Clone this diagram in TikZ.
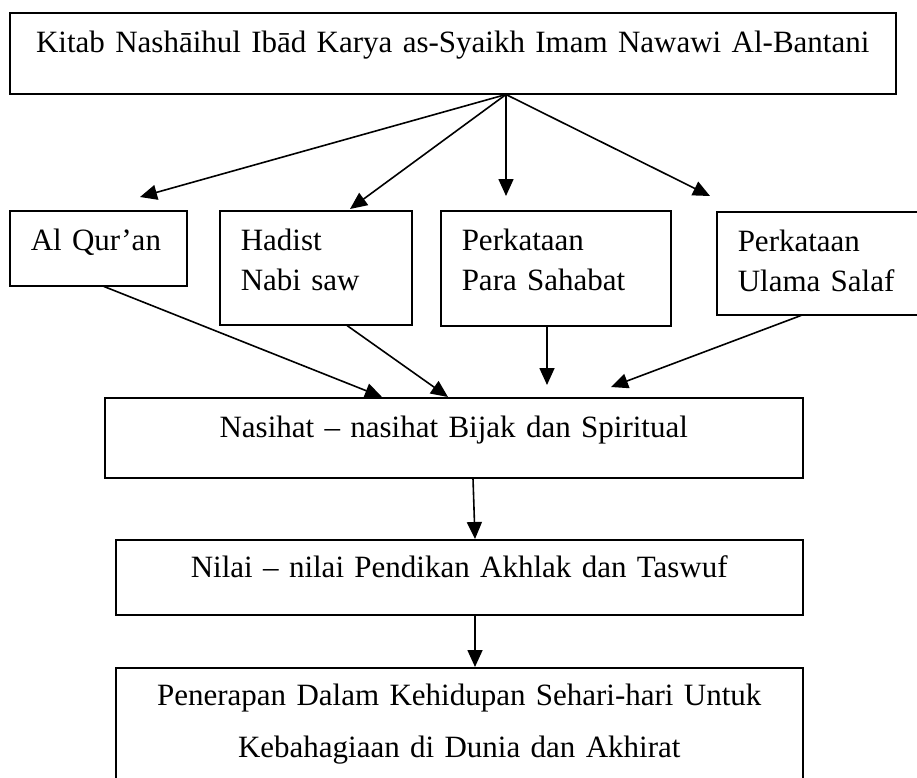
\documentclass[tikz,border=0pt]{standalone}
\usepackage{fontspec}
\setmainfont{Liberation Serif}
\usepackage{tikz}
\usetikzlibrary{arrows.meta,positioning,calc}
\tikzset{
  box/.style={draw,line width=1.5pt,anchor=north west,inner ysep=0pt,
    font=\fontsize{31}{40}\selectfont},
  cbox/.style={box,align=center,inner xsep=0pt},
  lbox/.style={box,align=left,inner xsep=21pt},
  arr/.style={line width=1.6pt,-{Triangle[length=17pt,width=15pt]}}
}

\begin{document}
\begin{tikzpicture}[x=1pt,y=-1pt]
    \useasboundingbox (0,0) rectangle (917,777);
    \clip (0,0) rectangle (917,777);
    % source
    \node[cbox,text width=886pt,text height=40pt,text depth=41pt] (kitab) at (9,12)
      {Kitab Nashāihul Ibād Karya as-Syaikh Imam Nawawi Al-Bantani};
    % four sources
    \node[lbox,text width=135pt,text height=40pt,text depth=35pt] (quran) at (9,210) {Al Qur’an};
    \node[lbox,text width=150pt,text height=40pt,text depth=74pt] (hadist) at (219,210) {Hadist\\Nabi saw};
    \node[lbox,text width=188pt,text height=40pt,text depth=75pt] (sahabat) at (440,210) {Perkataan\\Para Sahabat};
    \node[lbox,text width=180pt,text height=40pt,text depth=63pt] (salaf) at (716,211) {Perkataan\\Ulama Salaf};
    % results
    \node[cbox,text width=698pt,text height=40pt,text depth=40pt] (nasihat) at (104,397)
      {Nasihat – nasihat Bijak dan Spiritual};
    \node[cbox,text width=687pt,text height=38pt,text depth=37pt] (nilai) at (115,539)
      {Nilai – nilai Pendikan Akhlak dan Taswuf};
    \node[cbox,text width=687pt,text height=38pt,text depth=130pt] (terap) at (115,667)
      {Penerapan Dalam Kehidupan Sehari-hari Untuk\\[12pt]Kebahagiaan di Dunia dan Akhirat};

    \coordinate (hub) at ($(kitab.south west)+(497,0)$);
    \coordinate (tq) at (140,197);
    \coordinate (th) at (350,209);
    \coordinate (ts) at (506,196);
    \coordinate (tu) at (710,196);
    \foreach \t in {tq,th,ts,tu}
      \draw[arr] (hub) -- (\t);

    \coordinate (n1) at (382,397);
    \coordinate (n2) at (448,397);
    \coordinate (n3) at (547,385);
    \coordinate (n4) at (611,387);
    \draw[arr] ($(quran.south west)+(95,0)$) -- (n1);
    \draw[arr] ($(hadist.south west)+(128,0)$) -- (n2);
    \draw[arr] ($(sahabat.south west)+(107,0)$) -- (n3);
    \draw[arr] ($(salaf.south west)+(85,0)$) -- (n4);

    \draw[arr] ($(nasihat.south west)+(369,0)$) -- ($(nilai.north west)+(360,0)$);
    \draw[arr] ($(nilai.south west)+(360,0)$) -- ($(terap.north west)+(360,0)$);
  \end{tikzpicture}
\end{document}
